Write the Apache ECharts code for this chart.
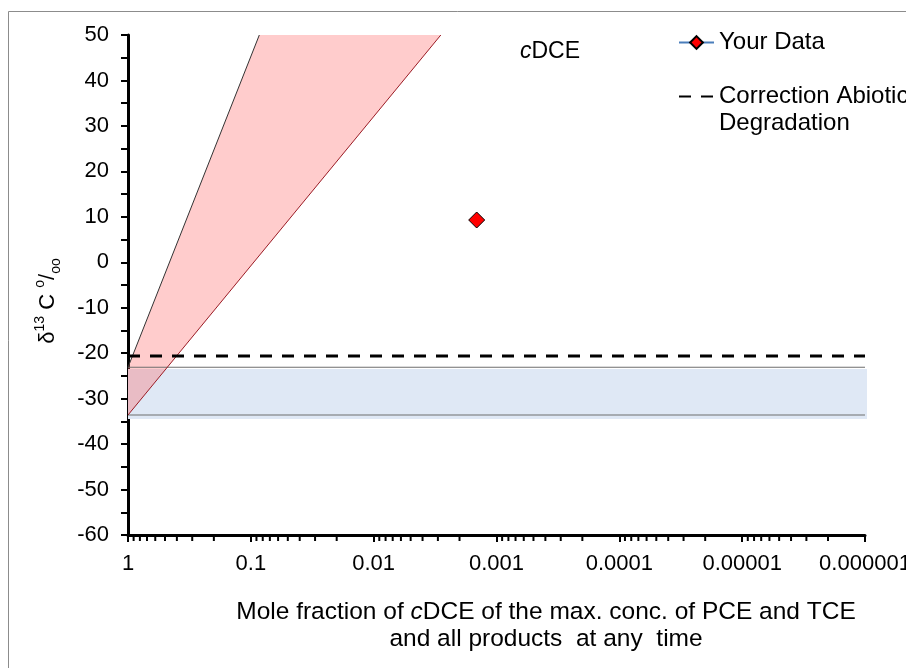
<!DOCTYPE html>
<html>
<head>
<meta charset="utf-8">
<script src="https://cdn.jsdelivr.net/npm/echarts@6/dist/echarts.min.js"></script>
<style>
  html, body { margin: 0; padding: 0; background: #fff; }
  #chart { width: 906px; height: 668px; }
</style>
</head>
<body>
<div id="chart"></div>
<script>
// tick labels of the reversed log x axis, 1 down to 1e-6
var xTickLabels = ['1', '0.1', '0.01', '0.001', '0.0001', '0.00001', '0.000001'];
var xRange = [0.000001, 1];
var yRange = [-60, 50];
var yStep = 10;

// measured sample
var dataX = [0.00145];
var dataY = [9.3];

// correction for abiotic degradation
var correctionY = -20.6;

// blue band (source range) and its edge lines
var bandFillY = [-23.5, -34.5];
var bandLineY = [-23.1, -33.6];

// red wedge (enrichment range)
var wedgeX = [1, 0.0853, 0.00284, 1];
var wedgeY = [-23.1, 50, 50, -33.6];

var FONT = "'Liberation Sans', Arial, sans-serif";
var CORR = 'Correction Abiotic\nDegradation';

// minor ticks of the log axis: 0.9 .. 0.2 of each decade
var minorTicks = [];
for (var k = 0; k < 6; k++) {
  for (var m = 2; m <= 9; m++) {
    minorTicks.push([m * Math.pow(10, -k - 1), yRange[0]]);
  }
}

var chart = echarts.init(document.getElementById('chart'));

var option = {
  animation: false,
  backgroundColor: '#fff',
  textStyle: { fontFamily: FONT, color: '#000' },
  grid: { left: 128, right: 41, top: 35, bottom: 133, containLabel: false, outerBoundsMode: 'none' },
  legend: {
    orient: 'vertical',
    left: 673,
    top: 24,
    itemWidth: 35,
    itemHeight: 16,
    itemGap: 0,
    textStyle: { fontFamily: FONT, fontSize: 24, color: '#000', lineHeight: 27 },
    // blank first line keeps the icon level with the first text line
    formatter: function (name) {
      return name === CORR ? ' \n' + name : name;
    },
    data: [
      { name: 'Your Data' },
      { name: CORR, itemStyle: { opacity: 0 } }
    ]
  },
  xAxis: {
    type: 'log',
    logBase: 10,
    min: xRange[0],
    max: xRange[1],
    inverse: true,
    axisLine: { onZero: false, lineStyle: { color: '#000', width: 3 } },
    axisTick: { length: 7, lineStyle: { color: '#000', width: 2 } },
    axisLabel: {
      fontSize: 22,
      color: '#000',
      margin: 18,
      fontFamily: FONT,
      hideOverlap: false,
      formatter: function (v) {
        var k = -Math.round(Math.log(v) / Math.LN10);
        return xTickLabels[k] || '';
      }
    },
    splitLine: { show: false }
  },
  yAxis: {
    type: 'value',
    min: yRange[0],
    max: yRange[1],
    interval: yStep,
    axisLine: { show: true, lineStyle: { color: '#000', width: 3 } },
    axisTick: { show: true, length: 7, lineStyle: { color: '#000', width: 2 } },
    minorTick: { show: true, splitNumber: 2, length: 7, lineStyle: { color: '#000', width: 2 } },
    axisLabel: { fontSize: 22, color: '#000', margin: 19, fontFamily: FONT },
    splitLine: { show: false }
  },
  graphic: [
    {
      type: 'rect',
      shape: { x: 8.5, y: 11.5, width: 1200, height: 1000 },
      style: { fill: 'none', stroke: '#8c8c8c', lineWidth: 1 },
      z: -10
    },
    {
      type: 'text',
      x: 550, y: 52,
      style: {
        text: '{i|c}{n|DCE}',
        align: 'center', verticalAlign: 'middle',
        rich: {
          i: { fontFamily: FONT, fontSize: 23, fontStyle: 'italic', fill: '#000' },
          n: { fontFamily: FONT, fontSize: 23, fill: '#000' }
        }
      }
    },
    {
      type: 'text',
      x: 546, y: 626,
      style: {
        text: '{t|Mole fraction of }{i|c}{t|DCE of the max. conc. of PCE and TCE}\n{t|and all products  at any  time}',
        align: 'center', verticalAlign: 'middle',
        rich: {
          t: { fontFamily: FONT, fontSize: 24.5, lineHeight: 27, fill: '#000' },
          i: { fontFamily: FONT, fontSize: 24.5, lineHeight: 27, fontStyle: 'italic', fill: '#000' }
        }
      }
    },
    {
      type: 'text',
      x: 48, y: 301,
      rotation: Math.PI / 2,
      style: {
        text: '{n|δ}{sup|13}{n| C }{sup|o}{n|/}{sub|oo}',
        align: 'center', verticalAlign: 'middle',
        rich: {
          n: { fontFamily: FONT, fontSize: 22, lineHeight: 30, fill: '#000' },
          sup: { fontFamily: FONT, fontSize: 14, lineHeight: 30, verticalAlign: 'top', fill: '#000' },
          sub: { fontFamily: FONT, fontSize: 14, lineHeight: 30, verticalAlign: 'bottom', fill: '#000' }
        }
      }
    }
  ],
  series: [
    {
      // blue band
      type: 'custom',
      silent: true,
      z: 1,
      data: [[xRange[1], bandFillY[0]]],
      renderItem: function (params, api) {
        var p1 = api.coord([xRange[1], bandFillY[0]]);
        var p2 = api.coord([xRange[0], bandFillY[1]]);
        return {
          type: 'rect',
          shape: { x: p1[0], y: p1[1], width: p2[0] - p1[0] + 2, height: p2[1] - p1[1] },
          style: { fill: '#dfe8f5' }
        };
      }
    },
    {
      // red wedge
      type: 'custom',
      silent: true,
      z: 2,
      data: [[wedgeX[0], wedgeY[0]]],
      renderItem: function (params, api) {
        var pts = wedgeX.map(function (x, i) { return api.coord([x, wedgeY[i]]); });
        return {
          type: 'polygon',
          shape: { points: pts },
          style: { fill: 'rgba(255,95,95,0.32)' }
        };
      }
    },
    {
      type: 'line', silent: true, symbol: 'none', z: 3,
      lineStyle: { color: '#6e6e6e', width: 1.2 },
      data: [[xRange[1], bandLineY[0]], [xRange[0], bandLineY[0]]]
    },
    {
      type: 'line', silent: true, symbol: 'none', z: 3,
      lineStyle: { color: '#6e6e6e', width: 1.2 },
      data: [[xRange[1], bandLineY[1]], [xRange[0], bandLineY[1]]]
    },
    {
      type: 'line', silent: true, symbol: 'none', z: 3,
      lineStyle: { color: '#333', width: 1 },
      data: [[wedgeX[0], wedgeY[0]], [wedgeX[1], wedgeY[1]]]
    },
    {
      type: 'line', silent: true, symbol: 'none', z: 3,
      lineStyle: { color: '#9b1b24', width: 1 },
      data: [[wedgeX[3], wedgeY[3]], [wedgeX[2], wedgeY[2]]]
    },
    {
      name: CORR,
      type: 'line', silent: true, z: 4,
      symbol: 'circle', symbolSize: 0, showSymbol: false,
      itemStyle: { color: '#000', opacity: 0 },
      lineStyle: { color: '#000', width: 3, type: [12, 10] },
      data: [[xRange[1], correctionY], [xRange[0], correctionY]]
    },
    {
      name: 'Your Data',
      type: 'line', z: 5,
      symbol: 'diamond',
      symbolSize: 16,
      itemStyle: { color: '#ff0000', borderColor: '#000', borderWidth: 1 },
      lineStyle: { color: '#4a7ebb', width: 2.5 },
      data: dataX.map(function (x, i) { return [x, dataY[i]]; })
    },
    {
      // minor ticks of the log axis
      type: 'custom',
      silent: true,
      clip: false,
      z: 6,
      data: minorTicks,
      renderItem: function (params, api) {
        var p = api.coord([api.value(0), api.value(1)]);
        return {
          type: 'line',
          shape: { x1: p[0], y1: p[1], x2: p[0], y2: p[1] + 6 },
          style: { stroke: '#000', lineWidth: 2 }
        };
      }
    }
  ]
};

chart.setOption(option);
</script>
</body>
</html>
